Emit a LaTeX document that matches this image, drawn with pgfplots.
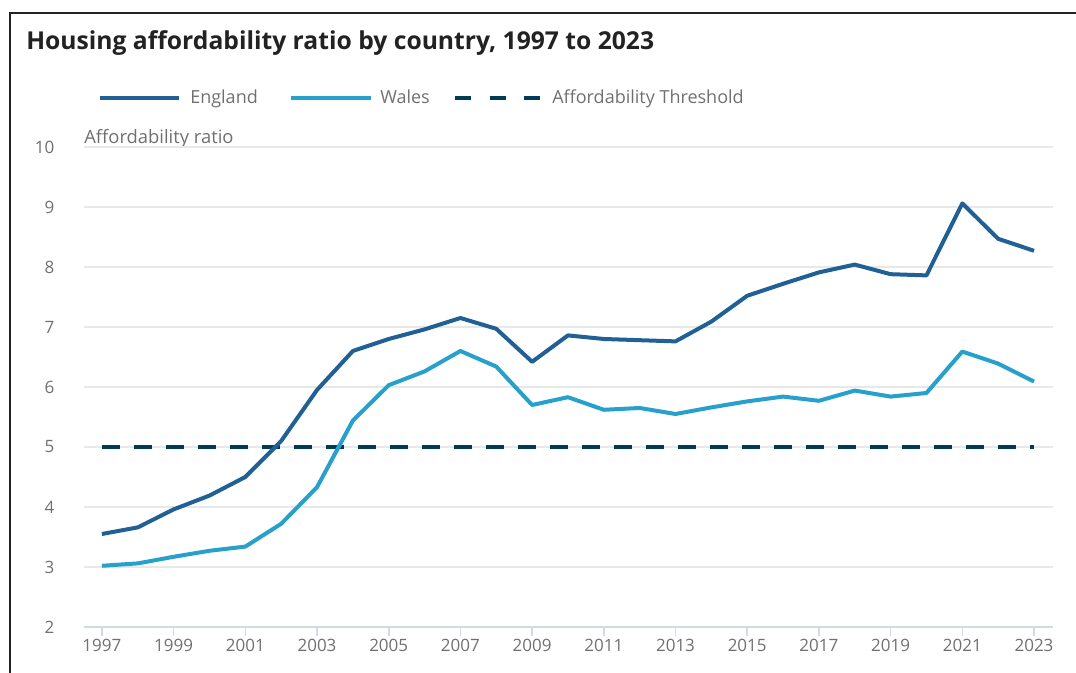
\documentclass[border=0pt]{standalone}
\usepackage{fontspec}
\setmainfont{Open Sans}
\usepackage{pgfplots}
\pgfplotsset{compat=1.18}
\definecolor{eng}{HTML}{206095}
\definecolor{wal}{HTML}{27A0CC}
\definecolor{thr}{HTML}{003C57}
\definecolor{txt}{HTML}{707070}
\definecolor{ttl}{HTML}{222222}
\definecolor{grd}{HTML}{E8E8E8}
\definecolor{axc}{HTML}{D3DAE6}
\begin{document}
\begin{tikzpicture}
\begin{scope}[x=0.75pt,y=0.75pt]
\path[use as bounding box] (0,0) rectangle (1076,673);
\draw[line width=1.6pt, ttl] (10,0) -- (10,660) -- (1076,660);
\node[anchor=base west, inner sep=0, text=ttl, font=\fontsize{18.5}{21}\selectfont\bfseries] at (26,623) {Housing affordability ratio by country, 1997 to 2023};
% legend
\draw[eng, line width=3pt] (100,575) -- (179,575);
\node[anchor=base west, inner sep=0, text=txt, font=\fontsize{13.5}{16}\selectfont] at (190,569) {England};
\draw[wal, line width=3pt] (291,575) -- (371,575);
\node[anchor=base west, inner sep=0, text=txt, font=\fontsize{13.5}{16}\selectfont] at (380,569) {Wales};
\draw[thr, line width=3.2pt, dash pattern=on 12pt off 14pt] (455,575) -- (542,575);
\node[anchor=base west, inner sep=0, text=txt, font=\fontsize{13.5}{16}\selectfont] at (552,569) {Affordability Threshold};
\node[anchor=base west, inner sep=0, text=txt, font=\fontsize{13.8}{16}\selectfont] at (84,529) {Affordability ratio};
\end{scope}
\begin{axis}[
  at={(63pt,34.5pt)}, anchor=south west,
  scale only axis, width=726.75pt, height=360pt,
  xmin=1996.5, xmax=2023.53, ymin=2, ymax=10,
  xtick={1997,1999,...,2023}, ytick={2,3,...,10},
  /pgf/number format/1000 sep={},
  /pgf/number format/assume math mode=true,
  ticklabel style={font=\fontsize{12.75}{15}\selectfont, text=txt},
  separate axis lines,
  axis x line*=bottom, axis y line*=left,
  x axis line style={draw=axc, line width=1.5pt, -},
  y axis line style={draw=none},
  xtick style={draw=axc, line width=1.2pt},
  ytick style={draw=none},
  tick align=outside, major tick length=6.75pt,
  ymajorgrids, grid style={draw=grd, line width=1.3pt},
  yticklabel style={anchor=east, xshift=-12pt},
  xticklabel style={anchor=base, yshift=-12pt},
]
\addplot[thr, line width=3.3pt, dash pattern=on 13.5pt off 10.5pt] coordinates {(1997,5) (2023,5)};
\addplot[wal, line width=3pt, line join=round] coordinates {
(1997,3.02) (1998,3.06) (1999,3.17) (2000,3.27) (2001,3.34) (2002,3.72) (2003,4.33) (2004,5.44) (2005,6.03) (2006,6.26) (2007,6.60) (2008,6.34) (2009,5.70) (2010,5.83) (2011,5.62) (2012,5.65) (2013,5.55) (2014,5.66) (2015,5.76) (2016,5.84) (2017,5.77) (2018,5.94) (2019,5.84) (2020,5.90) (2021,6.59) (2022,6.39) (2023,6.09)};
\addplot[eng, line width=3pt, line join=round] coordinates {
(1997,3.55) (1998,3.66) (1999,3.96) (2000,4.19) (2001,4.50) (2002,5.10) (2003,5.95) (2004,6.60) (2005,6.80) (2006,6.96) (2007,7.15) (2008,6.97) (2009,6.42) (2010,6.86) (2011,6.80) (2012,6.78) (2013,6.76) (2014,7.09) (2015,7.52) (2016,7.72) (2017,7.91) (2018,8.04) (2019,7.88) (2020,7.86) (2021,9.06) (2022,8.47) (2023,8.27)};
\end{axis}
\end{tikzpicture}
\end{document}
